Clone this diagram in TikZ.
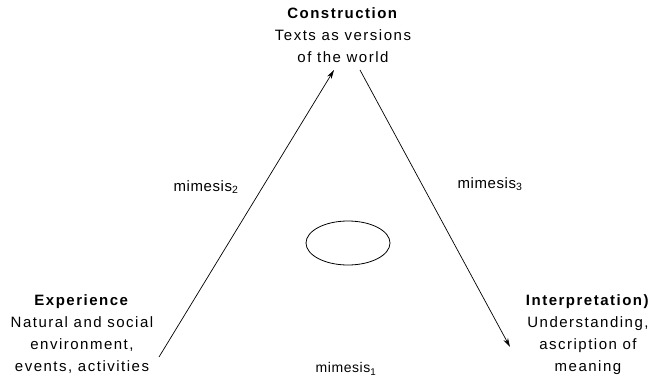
\documentclass[tikz,border=0pt]{standalone}
\usepackage{fontspec}
\setmainfont{Liberation Sans}
\newfontfamily\spaced[LetterSpace=10]{Liberation Sans}
\newfontfamily\mspaced[LetterSpace=4]{Liberation Sans}
\usetikzlibrary{arrows.meta}
\tikzset{
  lbl/.style={font=\spaced\fontsize{15}{22}\selectfont, align=center, inner sep=0pt},
  mim/.style={font=\mspaced\fontsize{15}{17}\selectfont, inner sep=0pt},
  arr/.style={-{Stealth[length=9pt,width=5pt]}, line width=0.7pt},
}
\begin{document}
\begin{tikzpicture}[x=1pt,y=-1pt]
\useasboundingbox (0,0) rectangle (664,383);
\node[lbl, anchor=north] (con) at (343,7) {\textbf{Construction}\\Texts as versions\\of the world};
\node[lbl, anchor=north] (exp) at (82,294) {\textbf{Experience}\\Natural and social\\environment,\\events, activities};
\node[lbl, anchor=north] (int) at (588,294) {\textbf{Interpretation)}\\Understanding,\\ascription of\\meaning};
\coordinate (a1) at (159,357);
\coordinate (a2) at (334,70);
\coordinate (b1) at (360,70);
\coordinate (b2) at (510,347);
\draw[arr] (a1) -- (a2);
\draw[arr] (b1) -- (b2);
\node[mim] (m2) at (206,187) {mimesis\textsubscript{2}};
\node[mim] (m3) at (490,184) {mimesis\textsubscript{3}};
\node[mim, font=\mspaced\fontsize{14}{16}\selectfont] (m1) at (346,369) {mimesis\textsubscript{1}};
\draw[line width=0.8pt] (348,243) ellipse (42 and 22);
\end{tikzpicture}
\end{document}
